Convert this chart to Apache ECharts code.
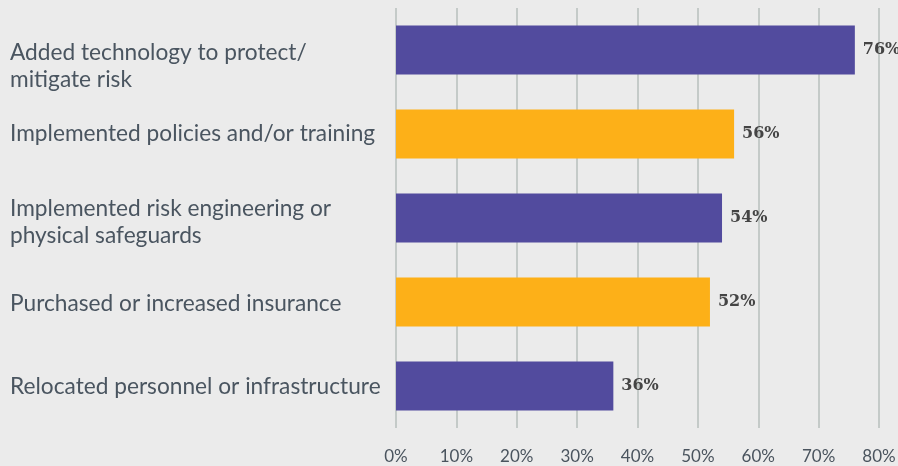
<!DOCTYPE html>
<html>
<head>
<meta charset="utf-8">
<script src="https://cdn.jsdelivr.net/npm/echarts@6/dist/echarts.min.js"></script>
<style>
  html, body { margin: 0; padding: 0; background: #ebebeb; }
  #chart { width: 898px; height: 466px; }
</style>
</head>
<body>
<div id="chart"></div>
<script>
const categories = [
  'Added technology to protect/\nmitigate risk',
  'Implemented policies and/or training',
  'Implemented risk engineering or\nphysical safeguards',
  'Purchased or increased insurance',
  'Relocated personnel or infrastructure'
];
const values = [76, 56, 54, 52, 36];
const barColors = ['#524b9e', '#fdb018', '#524b9e', '#fdb018', '#524b9e'];
// vertical nudge of each category label (px, downwards)
const labelShift = [16, 0, 4, 2, 1];

const labelFont = { color: '#4a5560', fontFamily: 'Lato', fontSize: 22.7, lineHeight: 27 };
const rich = { n: Object.assign({}, labelFont) };
labelShift.forEach((s, i) => {
  rich['g' + i] = { fontSize: 1, lineHeight: s * 2 };
});

const chart = echarts.init(document.getElementById('chart'));

chart.setOption({
  backgroundColor: '#ebebeb',
  animation: false,
  grid: { left: 396, right: 19, top: 8, bottom: 38, outerBoundsMode: 'none' },
  xAxis: {
    type: 'value',
    min: 0,
    max: 80,
    interval: 10,
    axisLine: { show: false },
    axisTick: { show: false },
    splitLine: { lineStyle: { color: '#b7bfbd', width: 1.5 } },
    axisLabel: {
      formatter: '{value}%',
      color: '#4a545e',
      fontFamily: 'Lato',
      fontSize: 17,
      margin: 20
    }
  },
  yAxis: {
    type: 'category',
    inverse: true,
    data: categories,
    axisLine: { show: false },
    axisTick: { show: false },
    axisLabel: Object.assign({}, labelFont, {
      align: 'left',
      margin: 386,
      formatter: (value, idx) => {
        const lines = value.split('\n').map(line => '{n|' + line + '}');
        if (labelShift[idx] > 0) lines.unshift('{g' + idx + '| }');
        return lines.join('\n');
      },
      rich: rich
    })
  },
  series: [{
    type: 'bar',
    data: values.map((v, i) => ({ value: v, itemStyle: { color: barColors[i] } })),
    barWidth: 49,
    label: {
      show: true,
      position: 'right',
      distance: 8,
      formatter: '{c}%',
      color: '#444444',
      fontFamily: 'DejaVu Serif',
      fontWeight: 'bold',
      fontSize: 16
    }
  }]
});
</script>
</body>
</html>
